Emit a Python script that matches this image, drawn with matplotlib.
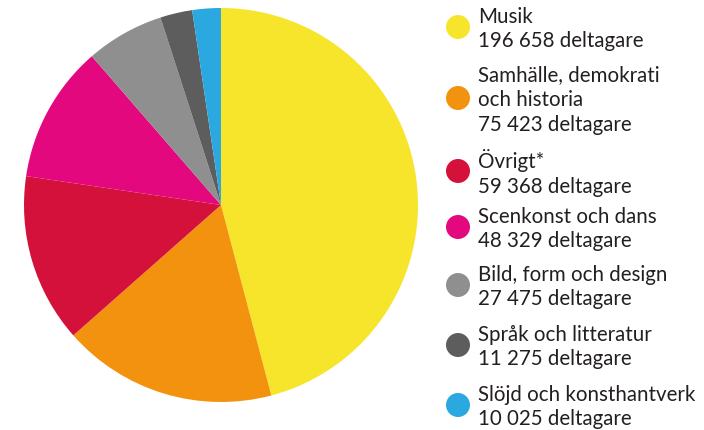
import matplotlib.pyplot as plt
from matplotlib.patches import Circle

plt.rcParams['font.family'] = ['Lato', 'DejaVu Sans']

# data
categories = ['Musik', 'Samhälle, demokrati\noch historia', 'Övrigt*', 'Scenkonst och dans',
              'Bild, form och design', 'Språk och litteratur', 'Slöjd och konsthantverk']
values = [196658, 75423, 59368, 48329, 27475, 11275, 10025]
colors = ['#F7E52B', '#F3920F', '#D4113B', '#E4087E', '#8F8F8F', '#5D5D5D', '#2CA8E0']

W, H = 704, 431
fig = plt.figure(figsize=(W / 100, H / 100), dpi=100)

# pie
ax = fig.add_axes([24 / W, 28 / H, 394 / W, 394 / H])
ax.pie(values, colors=colors, startangle=90, counterclock=False,
       wedgeprops=dict(linewidth=0))
ax.set_xlim(-1, 1)
ax.set_ylim(-1, 1)
ax.set_aspect('equal')
ax.axis('off')

# legend, drawn by hand
lax = fig.add_axes([0, 0, 1, 1])
lax.set_xlim(0, W)
lax.set_ylim(H, 0)
lax.axis('off')
block_y = [28, 99, 172, 228, 286, 346, 406]
for name, val, col, y in zip(categories, values, colors, block_y):
    lax.add_patch(Circle((458, y), 12, color=col, lw=0))
    num = f"{val:,}".replace(',', ' ')
    lax.text(478, y + 1, f"{name}\n{num} deltagare", va='center', ha='left',
             fontsize=14.8, color='#231F20', linespacing=1.3)

fig.savefig('out.png', dpi=100, facecolor='white')
